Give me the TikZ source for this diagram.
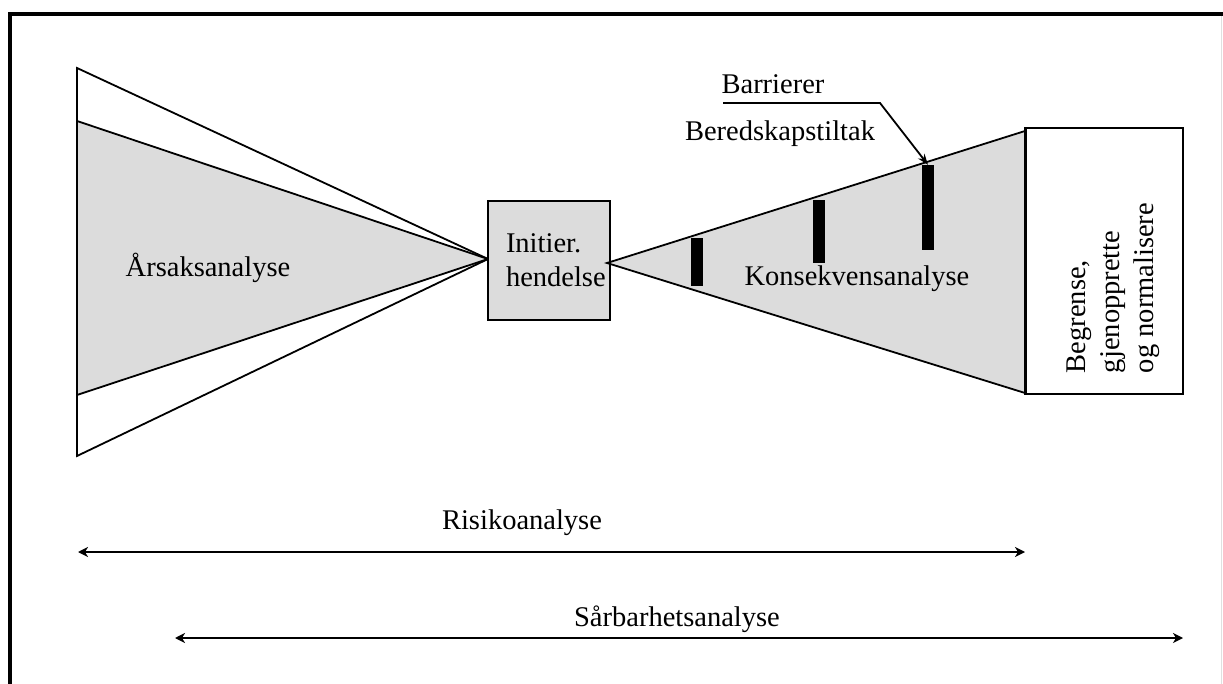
\documentclass[tikz,border=0pt]{standalone}
\usepackage{fontspec}
\setmainfont{Liberation Serif}
\usetikzlibrary{arrows.meta}
\definecolor{fanfill}{RGB}{220,220,220}
\begin{document}
\begin{tikzpicture}[x=1pt,y=-1pt,
  edge/.style={line width=1.8pt, line join=miter},
  lbl/.style={font=\fontsize{28.5}{34}\selectfont, inner sep=0pt},
  barmark/.style={fill=black, draw=none, minimum width=12pt, inner sep=0pt},
  span/.style={line width=2.4pt, {Stealth[length=10pt,width=10pt,inset=3pt]}-{Stealth[length=10pt,width=10pt,inset=3pt]}}]
\useasboundingbox (0,0) rectangle (1223,684);
\fill[white] (0,0) rectangle (1223,684);

% outer frame
\draw[line width=4pt] (10,684) -- (10,14) -- (1223,14);
\draw[black!12, line width=1pt] (1221.5,16) -- (1221.5,684);

% cause side
\coordinate (L) at (488,259);
\draw[edge, fill=white] (77,68) -- (L) -- (77,456) -- cycle;
\draw[edge, fill=fanfill] (77,121) -- (L) -- (77,395) -- cycle;
\node[lbl] (cause) at (208,268) {Årsaksanalyse};

% initiating event
\node[lbl, draw, line width=1.8pt, fill=fanfill, minimum width=122pt, minimum height=119pt,
      align=left, text width=86pt] (event) at (549,260.5) {Initier.\\hendelse};

% consequence side
\coordinate (R) at (607,263);
\draw[edge, fill=fanfill] (R) -- (1025,131) -- (1025,393) -- cycle;
\node[lbl] (cons) at (857,279) {Konsekvensanalyse};

% barriers
\node[barmark, minimum height=48pt] (b1) at (697,262) {};
\node[barmark, minimum height=63pt] (b2) at (819,231.5) {};
\node[barmark, minimum height=85pt] (b3) at (928,207.5) {};

% recovery box
\node[draw, line width=1.8pt, fill=white, minimum width=157pt, minimum height=266pt,
      inner sep=0pt] (rec) at (1104.5,261) {};
\draw[line width=3.2pt] (rec.north west) -- (rec.south west);
\node[lbl, rotate=90, align=left] (rectext) at (1113,288)
  {Begrense,\\gjenopprette\\og normalisere};

% labels above the barriers
\node[lbl] (barr) at (773,84) {Barrierer};
\node[lbl] (bered) at (780,134) {Beredskapstiltak};
\coordinate (lead) at (723,103);
\coordinate (kink) at (880,103);
\draw[line width=1.8pt, -{Stealth[length=11pt,width=8pt]}] (lead) -- (kink) -- (b3.north);

% analysis spans
\coordinate (r1) at (78,552);
\coordinate (r2) at (1025,552);
\draw[span] (r1) -- (r2);
\node[lbl] (risk) at (522,523) {Risikoanalyse};
\coordinate (s1) at (175,638);
\coordinate (s2) at (1183,638);
\draw[span] (s1) -- (s2);
\node[lbl] (vuln) at (677,619) {Sårbarhetsanalyse};
\end{tikzpicture}
\end{document}
